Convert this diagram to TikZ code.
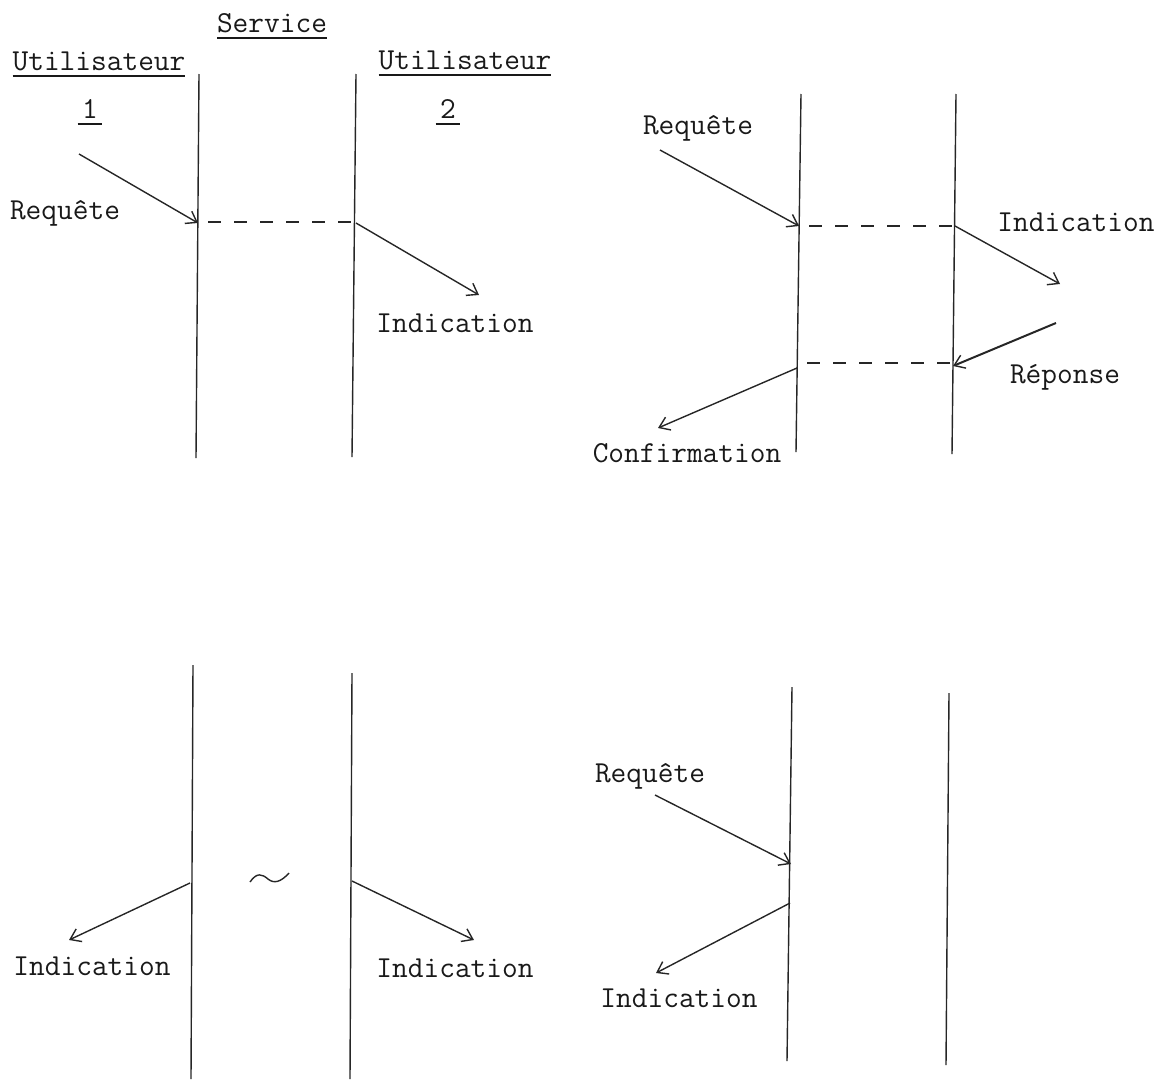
\documentclass[tikz,border=0pt]{standalone}
\usepackage{fontspec}
\setmonofont{Latin Modern Mono}
\usetikzlibrary{arrows.meta}
\newcommand{\myul}[1]{\leavevmode\vtop{\hbox{#1}\kern 5pt\hrule height 1.6pt}}
\tikzset{
 wire/.style={line width=1.4pt,black!85},
 msg/.style={line width=1.4pt,black!85,-{Straight Barb[length=10pt,width=14pt,line width=1.4pt]}},
 link/.style={line width=1.4pt,black!85,dash pattern=on 13pt off 13pt,dash phase=16pt},
 lbl/.style={font=\fontsize{30.5pt}{34pt}\ttfamily,inner sep=0pt,text=black!90,anchor=base}
}
\begin{document}
\begin{tikzpicture}[x=1pt,y=-1pt]
\useasboundingbox (0,0) rectangle (1161,1079);
% top-left
\coordinate (a1) at (199,74); \coordinate (a2) at (196,458);
\coordinate (b1) at (356,74); \coordinate (b2) at (352,457);
\draw[wire] (a1)--(a2); \draw[wire] (b1)--(b2);
\node[lbl] (t0) at (272,32) {\myul{Service}};
\node[lbl] (t1) at (99,70) {\myul{Utilisateur}};
\node[lbl] (t2) at (465,69) {\myul{Utilisateur}};
\node[lbl] (t3) at (90,118) {\myul{\hspace{4.5pt}1\hspace{4.5pt}}};
\node[lbl] (t4) at (448,118) {\myul{\hspace{4.5pt}2\hspace{4.5pt}}};
\coordinate (m1s) at (79,154); \coordinate (m1e) at (198,223);
\coordinate (d0) at (198,222); \coordinate (d1) at (356,222);
\coordinate (m2s) at (356,223); \coordinate (m2e) at (479,295);
\draw[msg] (m1s)--(m1e);
\draw[link] (d0)--(d1);
\draw[msg] (m2s)--(m2e);
\node[lbl] (l1) at (65,219) {Requête};
\node[lbl] (l2) at (455,332) {Indication};
% top-right
\coordinate (c1) at (801,94); \coordinate (c2) at (796,452);
\coordinate (e1) at (956,94); \coordinate (e2) at (952,454);
\draw[wire] (c1)--(c2); \draw[wire] (e1)--(e2);
\coordinate (n1s) at (660,150); \coordinate (n1e) at (799,226);
\coordinate (d2) at (955,226); \coordinate (n2e) at (1060,284);
\coordinate (n3s) at (1056,323); \coordinate (n3e) at (953,366);
\coordinate (d3) at (797,363); \coordinate (d4) at (953,363);
\coordinate (n4s) at (797,368); \coordinate (n4e) at (658,428);
\draw[msg] (n1s)--(n1e);
\draw[link] (n1e)--(d2);
\draw[msg] (d2)--(n2e);
\draw[msg,line width=2pt] (n3s)--(n3e);
\draw[link] (d3)--(d4);
\draw[msg] (n4s)--(n4e);
\node[lbl] (l3) at (698,134) {Requête};
\node[lbl] (l4) at (1076,231) {Indication};
\node[lbl] (l5) at (1065,383) {Réponse};
\node[lbl] (l6) at (687,462) {Confirmation};
% bottom-left
\coordinate (f1) at (193,665); \coordinate (f2) at (191,1079);
\coordinate (g1) at (352,673); \coordinate (g2) at (350,1079);
\draw[wire] (f1)--(f2); \draw[wire] (g1)--(g2);
\coordinate (p1s) at (190,883); \coordinate (p1e) at (69,940);
\coordinate (p2s) at (352,881); \coordinate (p2e) at (474,940);
\draw[msg] (p1s)--(p1e);
\draw[msg] (p2s)--(p2e);
\node[lbl] (l7) at (92,975) {Indication};
\node[lbl] (l8) at (455,977) {Indication};
\draw[wire] (250,882) .. controls (257,872) and (262,874) .. (268,879) .. controls (274,884) and (281,882) .. (289,873);
% bottom-right
\coordinate (h1) at (792,687); \coordinate (h2) at (787,1061);
\coordinate (i1) at (949,693); \coordinate (i2) at (946,1065);
\draw[wire] (h1)--(h2); \draw[wire] (i1)--(i2);
\coordinate (q1s) at (655,795); \coordinate (q1e) at (791,864);
\coordinate (q2s) at (790,903); \coordinate (q2e) at (656,973);
\draw[msg] (q1s)--(q1e);
\draw[msg] (q2s)--(q2e);
\node[lbl] (l9) at (650,782) {Requête};
\node[lbl] (l10) at (679,1007) {Indication};
\end{tikzpicture}
\end{document}
